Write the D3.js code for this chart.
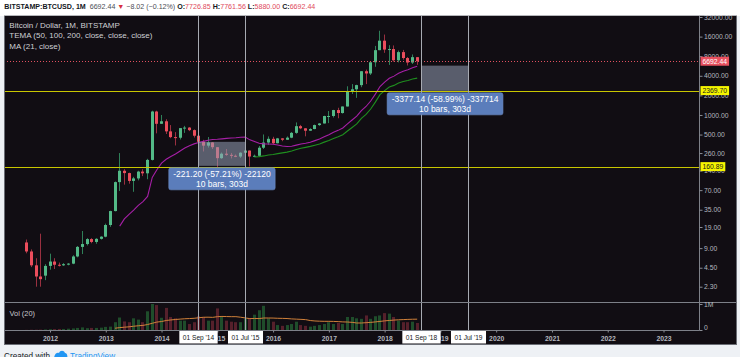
<!DOCTYPE html>
<html><head><meta charset="utf-8">
<script src="https://cdn.jsdelivr.net/npm/d3@7"></script>
<style>
html,body{margin:0;padding:0;background:#eef1f5;overflow:hidden;}
svg{display:block;}
</style></head><body>
<svg id="c" width="740" height="357"></svg>
<script>
// ---------- DATA ----------
const months = [
 "2011-08","2011-09","2011-10","2011-11","2011-12",
 "2012-01","2012-02","2012-03","2012-04","2012-05","2012-06","2012-07","2012-08","2012-09","2012-10","2012-11","2012-12",
 "2013-01","2013-02","2013-03","2013-04","2013-05","2013-06","2013-07","2013-08","2013-09","2013-10","2013-11","2013-12",
 "2014-01","2014-02","2014-03","2014-04","2014-05","2014-06","2014-07","2014-08","2014-09","2014-10","2014-11","2014-12",
 "2015-01","2015-02","2015-03","2015-04","2015-05","2015-06","2015-07","2015-08","2015-09","2015-10","2015-11","2015-12",
 "2016-01","2016-02","2016-03","2016-04","2016-05","2016-06","2016-07","2016-08","2016-09","2016-10","2016-11","2016-12",
 "2017-01","2017-02","2017-03","2017-04","2017-05","2017-06","2017-07","2017-08","2017-09","2017-10","2017-11","2017-12",
 "2018-01","2018-02","2018-03","2018-04","2018-05","2018-06","2018-07","2018-08"];
const open = [
 11.0,8.0,4.9,3.3,3.4,
 4.8,5.6,5.0,4.9,5.05,5.2,6.7,9.4,10.4,12.4,11.2,12.5,
 13.5,20.4,33.4,93,139,128,97,106,135,127,204,1130,
 732,800,560,457,447,628,640,585,480,387,338,378,
 320,217,254,244,236,230,263,284,230,236,314,377,
 430,368,437,416,448,531,673,624,573,608,700,740,
 963,965,1190,1071,1350,2300,2480,2875,4700,4340,6450,9900,
 13850,10100,10300,6920,9240,7490,6390,7726.85];
const high = [
 12.2,8.6,6.3,15.0,5.1,
 7.4,6.3,5.4,5.3,5.3,7.0,9.7,16.5,12.8,12.8,12.8,13.7,
 21.4,33.8,95,260,147,130,112,139,147,212,1163,1163,
 1000,860,700,545,630,680,650,600,490,415,458,382,
 320,265,300,261,247,267,317,285,246,334,502,468,
 462,444,440,468,548,768,704,626,625,713,752,974,
 1150,1200,1290,1350,2760,2980,2916,4736,4980,6470,11500,19666,
 17200,11800,11700,9760,9990,7770,8500,7761.56];
const low = [
 7.5,4.6,2.3,2.3,2.9,
 4.2,4.3,4.7,4.8,4.9,5.1,6.5,7.3,9.9,10.7,10.5,12.2,
 13.2,19.1,33,68,85,88,66,99,115,103,200,522,
 730,510,440,340,420,530,565,450,340,275,316,300,
 152,212,236,215,225,219,252,162,225,236,300,347,
 352,366,395,414,440,514,605,470,570,603,680,740,
 750,914,890,1050,1350,2100,1830,2670,2980,4110,5500,9900,
 9000,5873,6600,6430,7060,5755,6070,5880];
const close = [
 8.0,4.9,3.3,3.0,4.8,
 5.6,5.0,4.85,5.1,5.2,6.7,9.4,10.4,12.4,11.2,12.5,13.5,
 20.4,33.4,93,139,128,97,106,135,127,204,1130,732,
 800,560,457,447,628,640,585,480,387,338,378,320,
 217,254,244,236,230,263,284,230,236,314,377,430,
 368,437,416,448,531,673,624,573,608,700,740,963,
 965,1190,1071,1350,2300,2480,2875,4700,4340,6450,9900,13850,
 10100,10300,6920,9240,7490,6390,7730,6692.44];
const volume = [
 5000,10000,12000,15000,20000,
 30000,35000,40000,40000,50000,60000,80000,100000,70000,80000,80000,90000,
 120000,130000,300000,480000,330000,300000,450000,400000,300000,720000,1000000,960000,
 470000,850000,500000,450000,360000,360000,230000,300000,530000,500000,360000,360000,
 830000,500000,360000,320000,300000,300000,430000,450000,590000,760000,930000,450000,
 320000,190000,160000,190000,230000,320000,190000,160000,130000,160000,190000,230000,
 300000,230000,270000,230000,500000,500000,450000,430000,560000,430000,530000,560000,
 650000,630000,500000,360000,300000,300000,320000,270000];
const yearLabels = ["2012","2013","2014","2015","2016","2017","2018","2019","2020","2021","2022","2023"];
const priceTicks = [32000,16000,8000,4000,2000,1000,500,260,140,70,35,19,9,4.5,2.3];
const volTicks = [0,1000000];
const hLevels = [2369.70,160.89];
const lastPrice = 6692.44;
const markerDates = ["2014-09","2015-07","2018-09","2019-07"];
const markerLabels = ["01 Sep '14","01 Jul '15","01 Sep '18","01 Jul '19"];
const measureFrom = ["2014-09","2018-09"];
const measureTo = ["2015-07","2019-07"];
const measureStart = [386.65,5724.9];
const measureEnd = [165.45,2347.8];
const measureText1 = ["-221.20 (-57.21%) -22120","-3377.14 (-58.99%) -337714"];
const measureText2 = ["10 bars, 303d","10 bars, 303d"];

// ---------- SETUP ----------
const F = "'Liberation Sans', Arial, sans-serif";
const svg = d3.select("#c");
const mIdx = s => (+s.slice(0,4)-2012)*12 + (+s.slice(5,7)-1);
const x = d3.scaleLinear().domain([0,132]).range([50,663.5]);
const y = d3.scaleLog().domain([32000,2.3]).range([17,286.7]);
const yv = d3.scaleLinear().domain([0,1000000]).range([330,304]);
const px = v => Math.floor(x(v)) + 0.5;

const data = months.map((m,i)=>({m:mIdx(m),o:open[i],h:high[i],l:low[i],c:close[i],v:volume[i]}));
function sma(arr,n){return arr.map((_,i)=> i<n-1?null:d3.mean(arr.slice(i-n+1,i+1)));}
function ema(arr,n){
  const a = 2/(n+1); const out = []; let prev = null;
  arr.forEach((v,i)=>{
    if(i<n-1){out.push(null);return;}
    prev = prev==null ? d3.mean(arr.slice(i-n+1,i+1)) : a*v + (1-a)*prev;
    out.push(prev);
  });
  return out;
}
const ma21 = sma(close,21), ema50 = ema(close,50), vma20 = sma(volume,20);

const UP="#53b987", DN="#eb4d5c", UPW="#2f8059", DNW="#9a3040";
const BG="#110d13";

// frame
svg.append("rect").attr("x",0).attr("y",0).attr("width",740).attr("height",16).attr("fill","#ffffff");
svg.append("rect").attr("x",4).attr("y",16).attr("width",733).attr("height",329).attr("fill",BG);

const defs = svg.append("defs");
defs.append("clipPath").attr("id","mainClip").append("rect").attr("x",4).attr("y",16).attr("width",695.5).attr("height",286);
defs.append("clipPath").attr("id","volClip").append("rect").attr("x",4).attr("y",303).attr("width",695.5).attr("height",27);

// volume pane
const gv = svg.append("g").attr("clip-path","url(#volClip)");
gv.selectAll("rect.vb").data(data).join("rect")
  .attr("x",d=>Math.floor(x(d.m))-1).attr("width",3)
  .attr("y",d=>yv(d.v)).attr("height",d=>yv(0)-yv(d.v))
  .attr("fill",d=>d.c>=d.o?"#1f4d2b":"#56202b");
gv.append("path").datum(data.map((d,i)=>[d.m,vma20[i]]).filter(d=>d[1]!=null))
  .attr("d",d3.line().x(d=>x(d[0])).y(d=>yv(d[1])))
  .attr("fill","none").attr("stroke","#d0803a").attr("stroke-width",1);

// main pane
const gm = svg.append("g").attr("clip-path","url(#mainClip)");
gm.selectAll("line.wick").data(data).join("line")
  .attr("x1",d=>px(d.m)).attr("x2",d=>px(d.m))
  .attr("y1",d=>y(d.h)).attr("y2",d=>y(d.l))
  .attr("stroke",d=>d.c>=d.o?UPW:DNW).attr("stroke-width",1);
gm.selectAll("rect.body").data(data).join("rect")
  .attr("x",d=>Math.floor(x(d.m))-1).attr("width",3)
  .attr("y",d=>y(Math.max(d.o,d.c)))
  .attr("height",d=>Math.max(1,Math.abs(y(d.o)-y(d.c))))
  .attr("fill",d=>d.c>=d.o?UP:DN);

const lineGen = d3.line().x(d=>x(d[0])).y(d=>y(d[1]));
gm.append("path").datum(data.map((d,i)=>[d.m,ema50[i]]).filter(d=>d[1]!=null))
  .attr("d",lineGen).attr("fill","none").attr("stroke","#1f8f1f").attr("stroke-width",1.1);
gm.append("path").datum(data.map((d,i)=>[d.m,ma21[i]]).filter(d=>d[1]!=null))
  .attr("d",lineGen).attr("fill","none").attr("stroke","#a61fa6").attr("stroke-width",1.1);

// horizontal levels
gm.selectAll("line.lvl").data(hLevels).join("line")
  .attr("x1",4).attr("x2",699.5)
  .attr("y1",d=>Math.round(y(d))+0.5).attr("y2",d=>Math.round(y(d))+0.5)
  .attr("stroke","#c8c600").attr("stroke-width",1.2);
gm.append("line").attr("x1",4).attr("x2",699.5)
  .attr("y1",Math.round(y(lastPrice))+0.5).attr("y2",Math.round(y(lastPrice))+0.5)
  .attr("stroke","#e0505f").attr("stroke-width",1).attr("stroke-dasharray","1,2");

// measure rectangles
measureFrom.forEach((f,i)=>{
  const x0 = px(mIdx(f)), x1 = px(mIdx(measureTo[i]));
  const y0 = y(measureStart[i]), y1 = y(measureEnd[i]);
  gm.append("rect").attr("x",x0).attr("y",y0).attr("width",x1-x0).attr("height",y1-y0)
    .attr("fill","rgba(150,160,182,0.55)");
});

// vertical marker lines
svg.selectAll("line.vm").data(markerDates).join("line")
  .attr("x1",d=>px(mIdx(d))).attr("x2",d=>px(mIdx(d)))
  .attr("y1",16).attr("y2",330)
  .attr("stroke","#a7aab2").attr("stroke-width",1);

// measure label boxes
measureFrom.forEach((f,i)=>{
  const x0 = x(mIdx(f)), x1 = x(mIdx(measureTo[i]));
  const cx = (x0+x1)/2, top = y(measureEnd[i]) + 2;
  const g = svg.append("g");
  const t1 = g.append("text").attr("x",cx).attr("y",top+9.3).attr("text-anchor","middle")
    .attr("font-family",F).attr("font-size",8.5).attr("fill","#ffffff").text(measureText1[i]);
  g.append("text").attr("x",cx).attr("y",top+19).attr("text-anchor","middle")
    .attr("font-family",F).attr("font-size",8.5).attr("fill","#ffffff").text(measureText2[i]);
  const w = t1.node().getComputedTextLength() + 9;
  g.insert("rect","text").attr("x",cx-w/2).attr("y",top).attr("width",w).attr("height",22)
    .attr("rx",2).attr("fill","#5b7dbb").attr("stroke","#6f8fca").attr("stroke-width",0.6);
});

// pane borders
svg.append("line").attr("x1",4).attr("x2",737).attr("y1",302.5).attr("y2",302.5).attr("stroke","#7d8088");
svg.append("line").attr("x1",4).attr("x2",699.5).attr("y1",330.5).attr("y2",330.5).attr("stroke","#7d8088");
svg.append("line").attr("x1",699.5).attr("x2",699.5).attr("y1",16).attr("y2",330.5).attr("stroke","#7d8088");
svg.append("rect").attr("x",4.5).attr("y",15.5).attr("width",732).attr("height",329).attr("fill","none").attr("stroke","#6a6d75");

// right price axis
const ax = svg.append("g").attr("transform","translate(699.5,0)")
  .call(d3.axisRight(y).tickValues(priceTicks).tickFormat(d=>d.toFixed(2)).tickSize(3).tickPadding(1.5));
ax.attr("font-family",F).attr("font-size",6.8);
ax.select(".domain").remove();
ax.selectAll("line").attr("stroke","#8a8d95");
ax.selectAll("text").attr("fill","#b4b7bf");

// volume axis
const av = svg.append("g").attr("transform","translate(699.5,0)")
  .call(d3.axisRight(yv).tickValues(volTicks).tickFormat(d=>d===0?"0":"1M").tickSize(3).tickPadding(1.5));
av.attr("font-family",F).attr("font-size",6.8);
av.select(".domain").remove();
av.selectAll("line").attr("stroke","#8a8d95");
av.selectAll("text").attr("fill","#b4b7bf").attr("dy",(d)=>d===0?"-0.05em":"0.32em");

// price labels on axis
function axisLabel(v,bg,fg){
  const cy = y(v);
  const g = svg.append("g");
  const t = g.append("text").attr("x",702.5).attr("y",cy).attr("dy","0.34em")
    .attr("font-family",F).attr("font-size",6.8).attr("fill",fg).text(v.toFixed(2));
  const w = t.node().getComputedTextLength()+4;
  g.insert("rect","text").attr("x",700.5).attr("y",cy-4.5).attr("width",w).attr("height",9).attr("fill",bg);
}
axisLabel(lastPrice,"#e8505f","#ffffff");
hLevels.forEach(v=>axisLabel(v,"#f5f500","#1a1a1a"));

// time axis
const tx = svg.append("g").attr("transform","translate(0,330.5)")
  .call(d3.axisBottom(x).tickValues(yearLabels.map((_,i)=>i*12)).tickFormat((d,i)=>yearLabels[i]).tickSize(2).tickPadding(4));
tx.attr("font-family",F).attr("font-size",6.8).attr("font-weight","bold");
tx.select(".domain").remove();
tx.selectAll("line").attr("stroke","#8a8d95");
tx.selectAll("text").attr("fill","#b4b7bf");

// date marker labels
markerDates.forEach((d,i)=>{
  const cx = px(mIdx(d));
  const g = svg.append("g");
  const t = g.append("text").attr("x",cx).attr("y",337.3).attr("dy","0.34em").attr("text-anchor","middle")
    .attr("font-family",F).attr("font-size",6.6).attr("fill","#131722").text(markerLabels[i]);
  const w = t.node().getComputedTextLength()+7;
  g.insert("rect","text").attr("x",cx-w/2).attr("y",331).attr("width",w).attr("height",12.5).attr("fill","#ffffff");
});

// legends
const leg = svg.append("g").attr("font-family",F).attr("font-size",8).attr("fill","#cfd0d4");
leg.append("text").attr("x",9.3).attr("y",27.8).text("Bitcoin / Dollar, 1M, BITSTAMP");
leg.append("text").attr("x",9.3).attr("y",38.2).text("TEMA (50, 100, 200, close, close, close)");
leg.append("text").attr("x",9.3).attr("y",48.6).text("MA (21, close)");
svg.append("text").attr("x",9.5).attr("y",315.6).attr("font-family",F).attr("font-size",7.4)
  .attr("fill","#c8c9cd").text("Vol (20)");

// header (drawn last so it covers the clipped top label)
svg.append("rect").attr("x",0).attr("y",0).attr("width",740).attr("height",15.5).attr("fill","#ffffff");
const hd = svg.append("text").attr("x",4.3).attr("y",8.6).attr("font-family",F).attr("font-size",7.1);
hd.append("tspan").attr("font-weight","bold").attr("fill","#131722").text("BITSTAMP:BTCUSD, 1M");
hd.append("tspan").attr("fill","#4a4d55").text("\u00a0 6692.44 ");
hd.append("tspan").attr("fill","#d8303f").text("\u25BC");
hd.append("tspan").attr("fill","#4a4d55").text(" \u22128.02 (\u22120.12%) ");
[["O:","7726.85"],["H:","7761.56"],["L:","5880.00"],["C:","6692.44"]].forEach(p=>{
  hd.append("tspan").attr("font-weight","bold").attr("fill","#131722").text(p[0]);
  hd.append("tspan").attr("fill","#e04a5c").text(p[1]+" ");
});

// footer
const ft = svg.append("g").attr("font-family",F).attr("font-size",8.2);
ft.append("text").attr("x",4).attr("y",359).attr("fill","#131722").text("Created with");
ft.append("path").attr("d","M54,359 C54,354 57,352 59,353 C60,350 64,350 65,353 C67,353 68,356 67,359 Z").attr("fill","#2196f3");
ft.append("text").attr("x",70).attr("y",359).attr("fill","#2196f3").text("TradingView");
</script>
</body></html>
